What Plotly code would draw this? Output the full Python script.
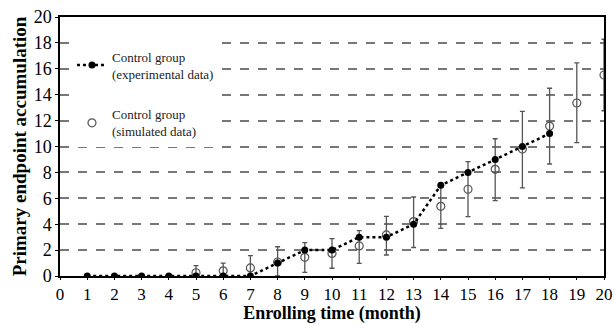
import plotly.graph_objects as go

months_exp = [1, 2, 3, 4, 5, 6, 7, 8, 9, 10, 11, 12, 13, 14, 15, 16, 17, 18]
exp_values = [0, 0, 0, 0, 0, 0, 0, 1, 2, 2, 3, 3, 4, 7, 8, 9, 10, 11]

months_sim = [5, 6, 7, 8, 9, 10, 11, 12, 13, 14, 15, 16, 17, 18, 19, 20]
sim_values = [0.25, 0.4, 0.62, 1.08, 1.44, 1.74, 2.32, 3.17, 4.2, 5.38, 6.7, 8.24, 9.8, 11.58, 13.36, 15.52]
sim_upper = [0.8, 1.0, 1.57, 2.26, 2.57, 2.89, 3.5, 4.6, 6.1, 7.05, 8.83, 10.6, 12.72, 14.5, 16.45, 18.28]
sim_lower = [0.0, 0.0, 0.0, 0.0, 0.28, 0.6, 0.98, 1.62, 2.2, 3.68, 4.58, 5.82, 6.8, 8.65, 10.3, 12.76]

x_ticks = list(range(0, 21))
y_ticks = list(range(0, 21, 2))

err_plus = [u - v for u, v in zip(sim_upper, sim_values)]
err_minus = [v - l for v, l in zip(sim_values, sim_lower)]

FONT = "Liberation Serif, Times New Roman, serif"

fig = go.Figure()

fig.add_trace(go.Scatter(
    x=months_sim, y=sim_values,
    mode="markers",
    name="Control group<br>(simulated data)",
    legendgroup="b", legendrank=2,
    marker=dict(symbol="circle-open", size=8, color="#555555", line=dict(width=1.2, color="#555555")),
    error_y=dict(type="data", symmetric=False, array=err_plus, arrayminus=err_minus,
                 color="#555555", thickness=1.3, width=2.5),
    showlegend=False,
))

fig.add_trace(go.Scatter(
    x=months_exp, y=exp_values,
    mode="lines+markers",
    name="Control group<br>(experimental data)",
    legendgroup="a", legendrank=1,
    line=dict(color="black", width=2.5, dash="dot"),
    marker=dict(symbol="circle", size=7, color="black"),
))

fig.add_trace(go.Scatter(
    x=[None], y=[None],
    mode="markers",
    name="Control group<br>(simulated data)",
    legendgroup="b", legendrank=2,
    marker=dict(symbol="circle-open", size=8, color="#555555", line=dict(width=1.2, color="#555555")),
))

fig.update_layout(
    width=614, height=324,
    margin=dict(l=60, r=10, t=17, b=48),
    paper_bgcolor="white", plot_bgcolor="white",
    font=dict(family=FONT, color="black"),
    legend=dict(
        x=0.022, y=0.905, xanchor="left", yanchor="top",
        bgcolor="white", font=dict(family=FONT, size=13, color="#222222"),
        tracegroupgap=21, traceorder="grouped", itemwidth=30,
    ),
    xaxis=dict(
        range=[0, 20], tickvals=x_ticks, ticktext=[str(t) for t in x_ticks],
        showgrid=False, zeroline=False, automargin=False, ticklabeloverflow="allow",
        showline=True, linecolor="black", linewidth=1.5, mirror=True,
        ticks="outside", ticklen=2, tickcolor="black",
        tickfont=dict(family=FONT, size=17),
        title=dict(text="<b>Enrolling time (month)</b>", font=dict(family=FONT, size=18), standoff=0),
    ),
    yaxis=dict(
        range=[0, 20], tickvals=y_ticks, ticktext=[str(t) for t in y_ticks],
        showgrid=True, gridcolor="#777777", gridwidth=1.5, griddash="dash",
        zeroline=False, automargin=False, ticklabeloverflow="allow",
        showline=True, linecolor="black", linewidth=1.5, mirror=True,
        ticks="outside", ticklen=3, tickcolor="black",
        tickfont=dict(family=FONT, size=18),
        title=dict(text="<b>Primary endpoint accumulation</b>", font=dict(family=FONT, size=19), standoff=2),
    ),
)

# remove the browser's default 8px body margin so the figure sits at the page origin
fig.write_html("out.html", config={"displayModeBar": False},
               post_script="document.body.style.margin='0';")
